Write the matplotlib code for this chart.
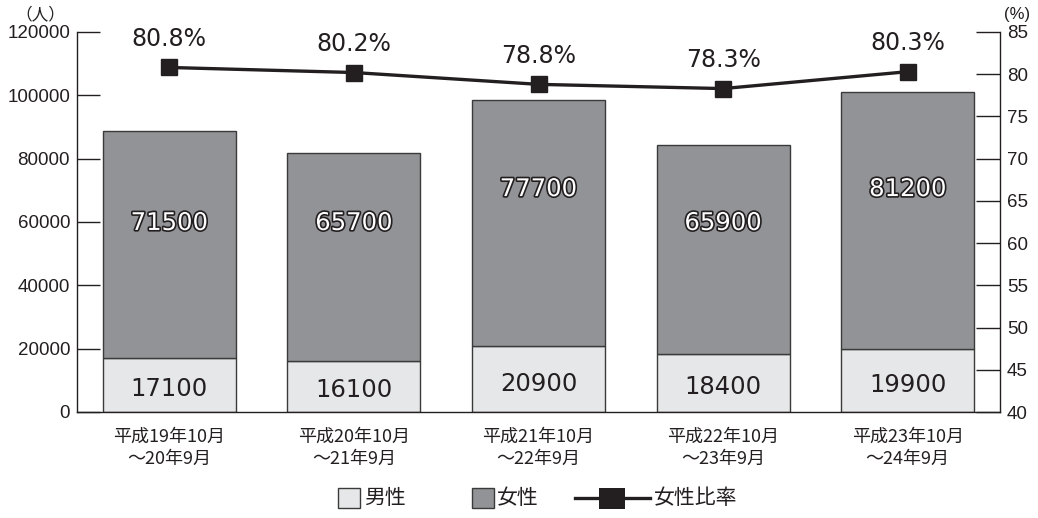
import matplotlib
matplotlib.use("Agg")
import matplotlib.pyplot as plt
import matplotlib.patheffects as pe
from matplotlib.patches import Rectangle
import numpy as np

plt.rcParams['font.family'] = ['Liberation Sans', 'Noto Sans CJK JP', 'DejaVu Sans']

periods = ["平成19年10月\n～20年9月", "平成20年10月\n～21年9月", "平成21年10月\n～22年9月",
           "平成22年10月\n～23年9月", "平成23年10月\n～24年9月"]
male = [17100, 16100, 20900, 18400, 19900]
female = [71500, 65700, 77700, 65900, 81200]
female_ratio = [80.8, 80.2, 78.8, 78.3, 80.3]
legend_labels = ["男性", "女性", "女性比率"]

male_color = "#e6e7e8"
female_color = "#929396"
edge = "#3a3a3a"
ink = "#231f20"
num_font = ['DejaVu Sans']
cjk_font = ['Noto Sans CJK JP']

W, H = 1038, 518
fig = plt.figure(figsize=(W / 100, H / 100), dpi=100)
ax = fig.add_axes([77 / W, 1 - 412 / H, 923 / W, 380 / H])
x = np.arange(len(periods))
w = 0.72

ax.bar(x, male, w, color=male_color, edgecolor=edge, linewidth=1, zorder=2)
ax.bar(x, female, w, bottom=male, color=female_color, edgecolor=edge, linewidth=1, zorder=2)

ax.set_xlim(-0.5, len(periods) - 0.5)
ax.set_ylim(0, 120000)
ax.set_yticks(range(0, 120001, 20000))
ax.tick_params(axis='y', direction='in', length=16.5, width=1, color=ink,
               labelsize=13.5, pad=5, labelcolor=ink)
ax.set_xticks(x)
ax.set_xticklabels(periods, fontsize=13, family=cjk_font, linespacing=1.3, color=ink)
ax.tick_params(axis='x', length=0, pad=11)
for s in ['left', 'right', 'bottom']:
    ax.spines[s].set_color(ink)
    ax.spines[s].set_linewidth(1)
ax.spines['top'].set_visible(False)

# female labels sit at two staggered heights (data units)
female_label_y = [59700, 59700, 70400, 59700, 70400]
for xi, m, f, fy in zip(x, male, female, female_label_y):
    ax.text(xi, m * 0.43, f"{m}", ha='center', va='center', fontsize=17.5,
            family=num_font, color=ink, zorder=3)
    ax.text(xi, fy, f"{f}", ha='center', va='center', fontsize=17.5, family=num_font,
            color='white', zorder=3,
            path_effects=[pe.withStroke(linewidth=2.4, foreground=ink)])

ax2 = ax.twinx()
ax2.set_ylim(40, 85)
ax2.set_yticks(range(40, 86, 5))
ax2.tick_params(axis='y', direction='in', length=17.5, width=1, color=ink,
                labelsize=13.5, pad=5, labelcolor=ink)
for s in ['left', 'right', 'bottom', 'top']:
    ax2.spines[s].set_visible(False)
ax2.plot(x, female_ratio, color=ink, linewidth=2.4, marker='s', markersize=12, zorder=4)
for xi, r in zip(x, female_ratio):
    ax2.annotate(f"{r}%", (xi, r), xytext=(0, 20.5), textcoords='offset points',
                 ha='center', va='center', fontsize=17, family=num_font, color=ink)

# overlay in pixel units for unit labels and legend
ov = fig.add_axes([0, 0, 1, 1], zorder=10)
ov.set_xlim(0, W)
ov.set_ylim(H, 0)
ov.axis('off')
ov.patch.set_alpha(0)

ov.text(40, 15, "（人）", ha='center', va='center', fontsize=12, family=cjk_font, color=ink)
ov.text(1017, 15, "(%)", ha='center', va='center', fontsize=12, color=ink)

ly = 498
ov.add_patch(Rectangle((338, ly - 10), 22, 20, facecolor=male_color, edgecolor=edge, lw=1))
ov.text(364, ly, legend_labels[0], ha='left', va='center', fontsize=15, family=cjk_font, color=ink)
ov.add_patch(Rectangle((472, ly - 10), 22, 20, facecolor=female_color, edgecolor=edge, lw=1))
ov.text(497, ly, legend_labels[1], ha='left', va='center', fontsize=15, family=cjk_font, color=ink)
ov.plot([575, 650], [ly, ly], color=ink, lw=2.4)
ov.add_patch(Rectangle((599, ly - 10), 26, 21, facecolor=ink, edgecolor=ink, lw=0))
ov.text(654, ly, legend_labels[2], ha='left', va='center', fontsize=15, family=cjk_font, color=ink)

fig.savefig("out.png", dpi=100)
